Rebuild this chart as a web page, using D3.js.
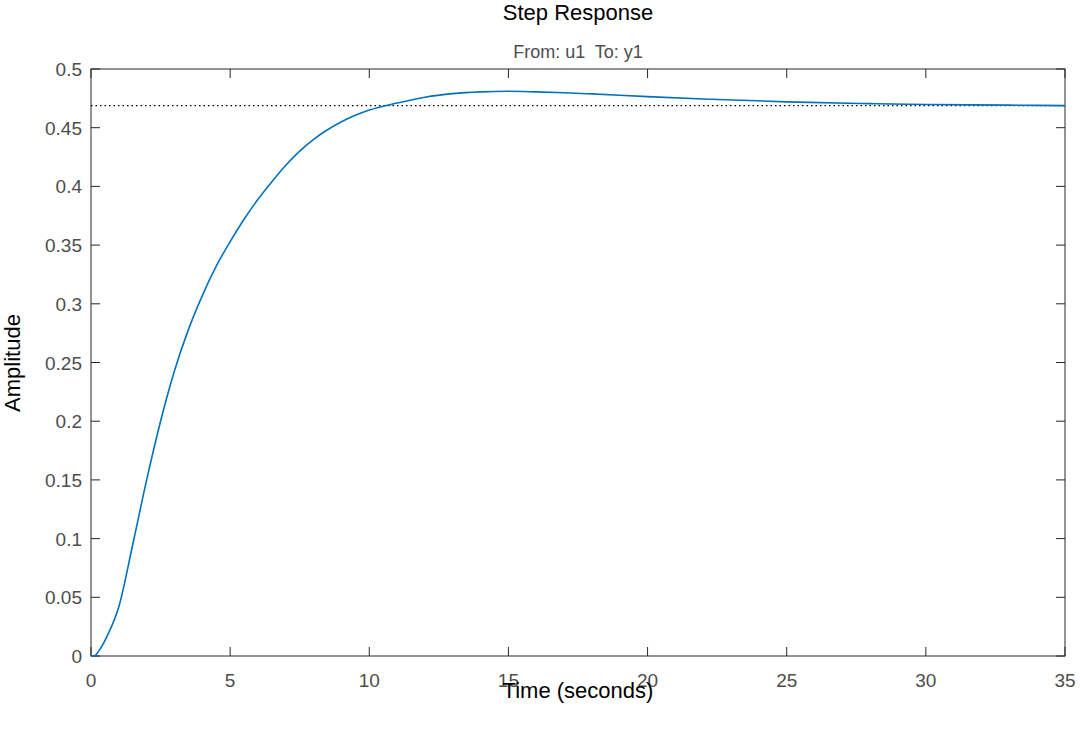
<!DOCTYPE html>
<html><head><meta charset="utf-8">
<script src="https://cdn.jsdelivr.net/npm/d3@7"></script>
<style>body{margin:0;background:#fff}text{font-family:"Liberation Sans",Arial,sans-serif}</style>
</head><body><svg id="c" width="1080" height="730"></svg>
<script>
const times=[0,0.1,0.3,0.6,1,1.5,2,2.5,3,3.5,4,4.5,5,5.5,6,6.5,7,7.5,8,9,10,11,12,13,14,15,16,17,18,20,22,25,28,30,33,35];
const amps=[0,0,0.005,0.018,0.042,0.095,0.15,0.2,0.243,0.278,0.307,0.332,0.353,0.372,0.389,0.404,0.418,0.43,0.44,0.455,0.465,0.471,0.476,0.479,0.4805,0.481,0.4805,0.4798,0.4788,0.4765,0.4745,0.472,0.4705,0.4698,0.4692,0.4688];
const steady=0.4688;
const xTicks=[0,5,10,15,20,25,30,35];
const yTicks=[0,0.05,0.1,0.15,0.2,0.25,0.3,0.35,0.4,0.45,0.5];
const L=91,R=1065,T=69,B=656;
const svg=d3.select("#c");
const x=d3.scaleLinear().domain([0,35]).range([L,R]);
const y=d3.scaleLinear().domain([0,0.5]).range([B,T]);
svg.append("rect").attr("x",L).attr("y",T).attr("width",R-L).attr("height",B-T).attr("fill","#fff").attr("stroke","#262626").attr("stroke-width",1);
const g=svg.append("g");
xTicks.forEach(t=>{g.append("line").attr("x1",x(t)).attr("x2",x(t)).attr("y1",B).attr("y2",B-9).attr("stroke","#262626");
 g.append("line").attr("x1",x(t)).attr("x2",x(t)).attr("y1",T).attr("y2",T+9).attr("stroke","#262626");
 g.append("text").attr("x",x(t)).attr("y",B+31).attr("text-anchor","middle").attr("font-size",19).attr("fill","#4d4d4d").text(t);});
yTicks.forEach(t=>{g.append("line").attr("x1",L).attr("x2",L+9).attr("y1",y(t)).attr("y2",y(t)).attr("stroke","#262626");
 g.append("line").attr("x1",R).attr("x2",R-9).attr("y1",y(t)).attr("y2",y(t)).attr("stroke","#262626");
 g.append("text").attr("x",L-9).attr("y",y(t)+7).attr("text-anchor","end").attr("font-size",19).attr("fill","#4d4d4d").text(t);});
svg.append("line").attr("x1",L).attr("x2",R).attr("y1",y(steady)).attr("y2",y(steady)).attr("stroke","#000").attr("stroke-dasharray","1.5,3").attr("stroke-width",1.2);
const line=d3.line().x((d,i)=>x(times[i])).y(d=>y(d)).curve(d3.curveMonotoneX);
svg.append("path").attr("d",line(amps)).attr("fill","none").attr("stroke","#0072bd").attr("stroke-width",1.6);
svg.append("text").attr("x",578).attr("y",20).attr("text-anchor","middle").attr("font-size",22).attr("fill","#000").text("Step Response");
svg.append("text").attr("x",578).attr("y",58).attr("text-anchor","middle").attr("font-size",18).attr("fill","#4d4d4d").attr("xml:space","preserve").text("From: u1  To: y1");
svg.append("text").attr("x",578).attr("y",698).attr("text-anchor","middle").attr("font-size",22).attr("fill","#000").text("Time (seconds)");
svg.append("text").attr("transform","translate(20,363) rotate(-90)").attr("text-anchor","middle").attr("font-size",22).attr("fill","#000").text("Amplitude");
</script></body></html>
